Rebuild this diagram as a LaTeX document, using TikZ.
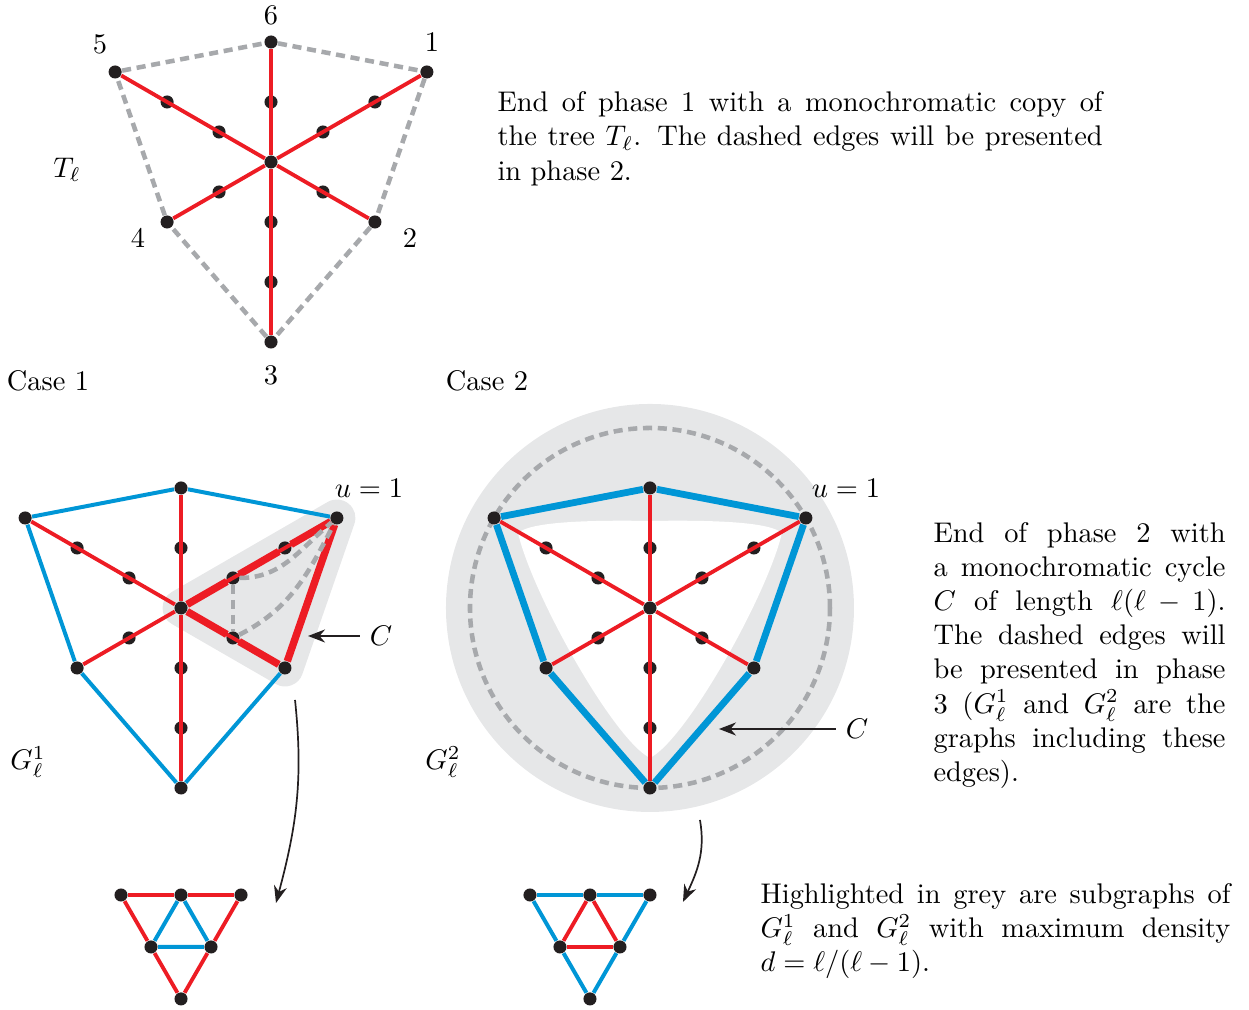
\documentclass[tikz,border=0pt]{standalone}
\usepackage{amsmath}
\usetikzlibrary{arrows.meta}
\definecolor{edgered}{RGB}{237, 28, 36}
\definecolor{edgeblue}{RGB}{0, 150, 214}
\definecolor{shadegrey}{RGB}{230, 231, 232}
\definecolor{dashgrey}{RGB}{167, 169, 172}
\definecolor{dotblack}{RGB}{35, 31, 32}

\begin{document}
\begin{tikzpicture}[
    x=21.12pt, y=21.12pt,
    >={Stealth[length=6pt, width=4.6pt]},
    dot/.style={circle, fill=dotblack, inner sep=0pt, minimum size=4.6pt},
    redline/.style={edgered, line width=1.35pt},
    redthick/.style={edgered, line width=2.6pt},
    blueline/.style={edgeblue, line width=1.4pt},
    bluethick/.style={edgeblue, line width=2.4pt},
    greydash/.style={dashgrey, line width=1.6pt, dash pattern=on 3.2pt off 2pt},
    pointer/.style={->, dotblack, line width=0.6pt},
    caption/.style={anchor=north west, inner sep=0pt, align=justify}
]

\useasboundingbox (0,0) rectangle (20.817,-16.833);

% ============================================================
%  PHASE 1 : l'arbre T_l (en haut)
% ============================================================
\begin{scope}[shift={(4.517,-2.7)}]
  \node[dot] (t0) at (0,0) {};
  \foreach \a/\n/\l in {30/1/3, -30/2/2, -90/3/3, 210/4/2, 150/5/3, 90/6/2} {
    \foreach \r in {1,...,\l} \node[dot] (t\n-\r) at (\a:\r) {};
    \draw[redline] (t0) \foreach \r in {1,...,\l} { -- (t\n-\r) };
  }
  \draw[greydash] (t5-3) -- (t6-2) -- (t1-3) -- (t2-2) -- (t3-3) -- (t4-2) -- (t5-3);

  \node (n6) at (0,2.45) {6};
  \node (n1) at (2.683,2.0) {1};
  \node (n5) at (-2.85,1.967) {5};
  \node (n2) at (2.317,-1.267) {2};
  \node (n4) at (-2.217,-1.267) {4};
  \node (n3) at (0,-3.55) {3};
  \node (tl) at (-3.4,-0.133) {$T_\ell$};
\end{scope}

\node[caption, text width=213pt] (txtone) at (8.283,-1.522) {End of phase 1
  with a monochromatic copy of the tree $T_\ell$. The dashed edges will be
  presented in phase 2.};

\node (caseone) at (0.8,-6.35) {Case 1};
\node (casetwo) at (8.117,-6.35) {Case 2};

% ============================================================
%  CAS 1 : cycle C dans G_l^1
% ============================================================
\begin{scope}[shift={(3.017,-10.133)}]
  \filldraw[shadegrey, line width=13pt, line join=round]
    (0,0) -- (30:3) -- (-30:2) -- cycle;
  \node[dot] (a0) at (0,0) {};
  \foreach \a/\n/\l in {30/1/3, -30/2/2, -90/3/3, 210/4/2, 150/5/3, 90/6/2} {
    \foreach \r in {1,...,\l} \node[dot] (a\n-\r) at (\a:\r) {};
    \draw[redline] (a0) \foreach \r in {1,...,\l} { -- (a\n-\r) };
  }
  \draw[redthick] (a0) -- (a1-1) -- (a1-2) -- (a1-3) -- (a2-2) -- (a2-1) -- (a0);
  \draw[blueline] (a5-3) -- (a6-2) -- (a1-3);
  \draw[blueline] (a5-3) -- (a4-2) -- (a3-3) -- (a2-2);
  \draw[greydash] (a1-1) -- (a2-1);
  \draw[greydash] (a1-1) to[out=0, in=-140] (a1-3);
  \draw[greydash] (a2-1) to[out=27, in=-117] (a1-3);

  \node (ua) at (3.133,2.0) {$u=1$};
  \node (ca) at (3.333,-0.467) {$C$};
  \coordinate (catip) at (2.117,-0.467);
  \draw[pointer] (ca.west) -- (catip);
  \node (ga) at (-2.55,-2.567) {$G_\ell^1$};

  \coordinate (arra) at (1.9,-1.533);
  \coordinate (arratip) at (1.583,-4.917);
  \draw[pointer] (arra) to[out=-84, in=75] (arratip);
\end{scope}

% ============================================================
%  CAS 2 : cycle C dans G_l^2
% ============================================================
\begin{scope}[shift={(10.833,-10.133)}]
  \fill[shadegrey] (0,0) circle (3.4);
  \fill[white] (0,1.45) .. controls (-1.2,1.47) and (-2.0,1.42) .. (-2.2,1.25)
    .. controls (-1.95,0.2) and (-0.6,-2.2) .. (0,-2.5)
    .. controls (0.6,-2.2) and (1.95,0.2) .. (2.2,1.25)
    .. controls (2.0,1.42) and (1.2,1.47) .. (0,1.45) -- cycle;
  \draw[greydash] (0,0) circle (3);
  \node[dot] (b0) at (0,0) {};
  \foreach \a/\n/\l in {30/1/3, -30/2/2, -90/3/3, 210/4/2, 150/5/3, 90/6/2} {
    \foreach \r in {1,...,\l} \node[dot] (b\n-\r) at (\a:\r) {};
    \draw[redline] (b0) \foreach \r in {1,...,\l} { -- (b\n-\r) };
  }
  \draw[bluethick] (b5-3) -- (b6-2) -- (b1-3) -- (b2-2) -- (b3-3) -- (b4-2) -- (b5-3);

  \node (ub) at (3.267,2.0) {$u=1$};
  \node (cb) at (3.45,-2.017) {$C$};
  \coordinate (cbtip) at (1.15,-2.017);
  \draw[pointer] (cb.west) -- (cbtip);
  \node (gb) at (-3.45,-2.567) {$G_\ell^2$};

  \coordinate (arrb) at (0.833,-3.533);
  \coordinate (arrbtip) at (0.55,-4.9);
  \draw[pointer] (arrb) to[out=-80, in=65] (arrbtip);
\end{scope}

\node[caption, text width=102.8pt] (txttwo) at (15.55,-8.70) {End of phase 2
  with a monochromatic cycle $C$ of length $\ell(\ell-1)$. The dashed edges
  will be presented in phase 3 ($G_\ell^1$ and $G_\ell^2$ are the graphs
  including these edges).};

% ============================================================
%  SOUS-GRAPHES DE DENSITE MAXIMALE (en bas)
% ============================================================
\begin{scope}[shift={(3.017,-14.917)}]
  \node[dot] (p1) at (-1,0) {};
  \node[dot] (p2) at (0,0) {};
  \node[dot] (p3) at (1,0) {};
  \node[dot] (p4) at (-0.5,-0.866) {};
  \node[dot] (p5) at (0.5,-0.866) {};
  \node[dot] (p6) at (0,-1.732) {};
  \draw[redline] (p1) -- (p2) -- (p3) -- (p5) -- (p6) -- (p4) -- (p1);
  \draw[blueline] (p2) -- (p4) -- (p5) -- (p2);
\end{scope}

\begin{scope}[shift={(9.833,-14.917)}]
  \node[dot] (q1) at (-1,0) {};
  \node[dot] (q2) at (0,0) {};
  \node[dot] (q3) at (1,0) {};
  \node[dot] (q4) at (-0.5,-0.866) {};
  \node[dot] (q5) at (0.5,-0.866) {};
  \node[dot] (q6) at (0,-1.732) {};
  \draw[blueline] (q1) -- (q2) -- (q3) -- (q5) -- (q6) -- (q4) -- (q1);
  \draw[redline] (q2) -- (q4) -- (q5) -- (q2);
\end{scope}

\node[caption, text width=165.4pt] (txtthree) at (12.667,-14.717) {Highlighted
  in grey are subgraphs of $G_\ell^1$ and $G_\ell^2$ with maximum density
  ${d=\ell/(\ell-1)}$.};

\end{tikzpicture}
\end{document}
